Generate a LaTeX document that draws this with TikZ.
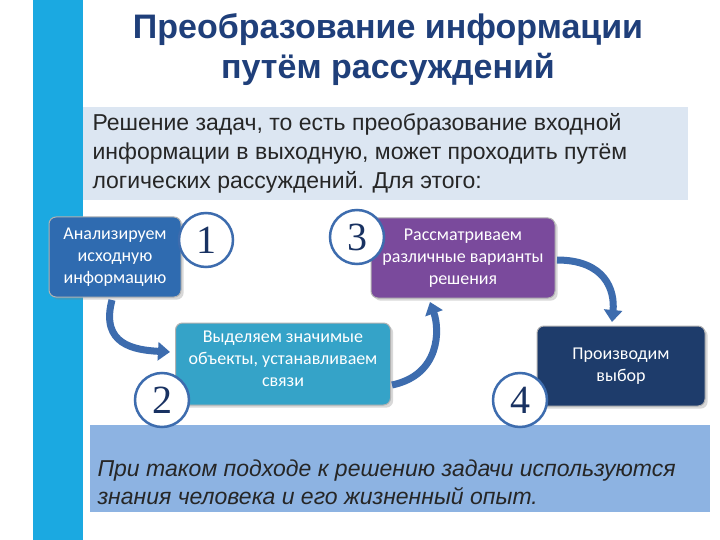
\documentclass[tikz,border=0pt]{standalone}
\usepackage{fontspec}
\setmainfont{Liberation Sans}
\newfontfamily\carfont{Carlito}
\newfontfamily\numf{Liberation Serif}
\usetikzlibrary{arrows.meta,shadows}
\definecolor{bar}{HTML}{1BA9E1}
\definecolor{title}{HTML}{1F3F7A}
\definecolor{lb}{HTML}{DCE6F2}
\definecolor{bb}{HTML}{8DB3E2}
\definecolor{c1}{HTML}{2F6BB0}
\definecolor{c2}{HTML}{35A3C8}
\definecolor{c3}{HTML}{7A4A9C}
\definecolor{c4}{HTML}{1E3C6B}
\definecolor{arr}{HTML}{3D6CAE}
\tikzset{
 boxtxt/.style={text=white, font=\carfont\fontsize{18}{22}\selectfont, align=center, inner sep=0pt},
 boxs/.style={boxtxt, rounded corners=7pt, draw=gray!60, line width=1pt, drop shadow={opacity=0.3}},
 numc/.style={circle, draw=arr, line width=2.5pt, fill=white, minimum size=54pt, font=\numf\fontsize{40}{40}\selectfont, text=title!80!black, inner sep=0pt},
 carr/.style={line width=7pt, draw=arr, -{Triangle[length=12pt,width=18pt]}}
}
\begin{document}
\begin{tikzpicture}[x=1pt,y=-1pt]
\useasboundingbox (0,0) rectangle (720,540);
\fill[white] (0,0) rectangle (720,540);
\fill[bar] (33,0) rectangle (83,540);
\node[font=\bfseries\fontsize{34}{40}\selectfont, text=title, align=center] (t) at (388,50) {Преобразование информации\\путём рассуждений};
\fill[lb] (83,107) rectangle (688,200);
\node[anchor=north west, align=left, font=\fontsize{23}{29}\selectfont, text=black!85] (p) at (89,110) {Решение задач, то есть преобразование входной\\информации в выходную, может проходить путём\\логических рассуждений. Для этого:};
\fill[bb] (90,425) rectangle (710,512);
\node[align=left, font=\itshape\fontsize{23}{28}\selectfont, text=black!85, anchor=west] (q) at (94,482) {При таком подходе к решению задачи используются\\знания человека и его жизненный опыт.};
\node[boxs, fill=c1, minimum width=132pt, minimum height=80pt] (b1) at (115,257) {Анализируем\\исходную\\информацию};
\node[boxs, fill=c2, minimum width=215pt, minimum height=82pt] (b2) at (283,364) {};
\node[boxtxt, anchor=north] (b2t) at (b2.north) [yshift=-8pt] {Выделяем значимые\\объекты, устанавливаем\\связи};
\node[boxs, fill=c3, minimum width=184pt, minimum height=80pt] (b3) at (463,258) {Рассматриваем\\различные варианты\\решения};
\node[boxs, fill=c4, minimum width=168pt, minimum height=80pt] (b4) at (621,366) {Производим\\выбор};
\node[numc] (n1) at (206,240) {1};
\node[numc] (n2) at (162,400) {2};
\node[numc] (n3) at (357,237) {3};
\node[numc] (n4) at (520,400) {4};
\draw[carr] (112,300) .. controls (100,345) and (135,350) .. (170,352);
\draw[carr] (392,385) .. controls (440,375) and (440,330) .. (430,302);
\draw[carr] (557,260) .. controls (605,260) and (615,290) .. (612,322);
\end{tikzpicture}
\end{document}
